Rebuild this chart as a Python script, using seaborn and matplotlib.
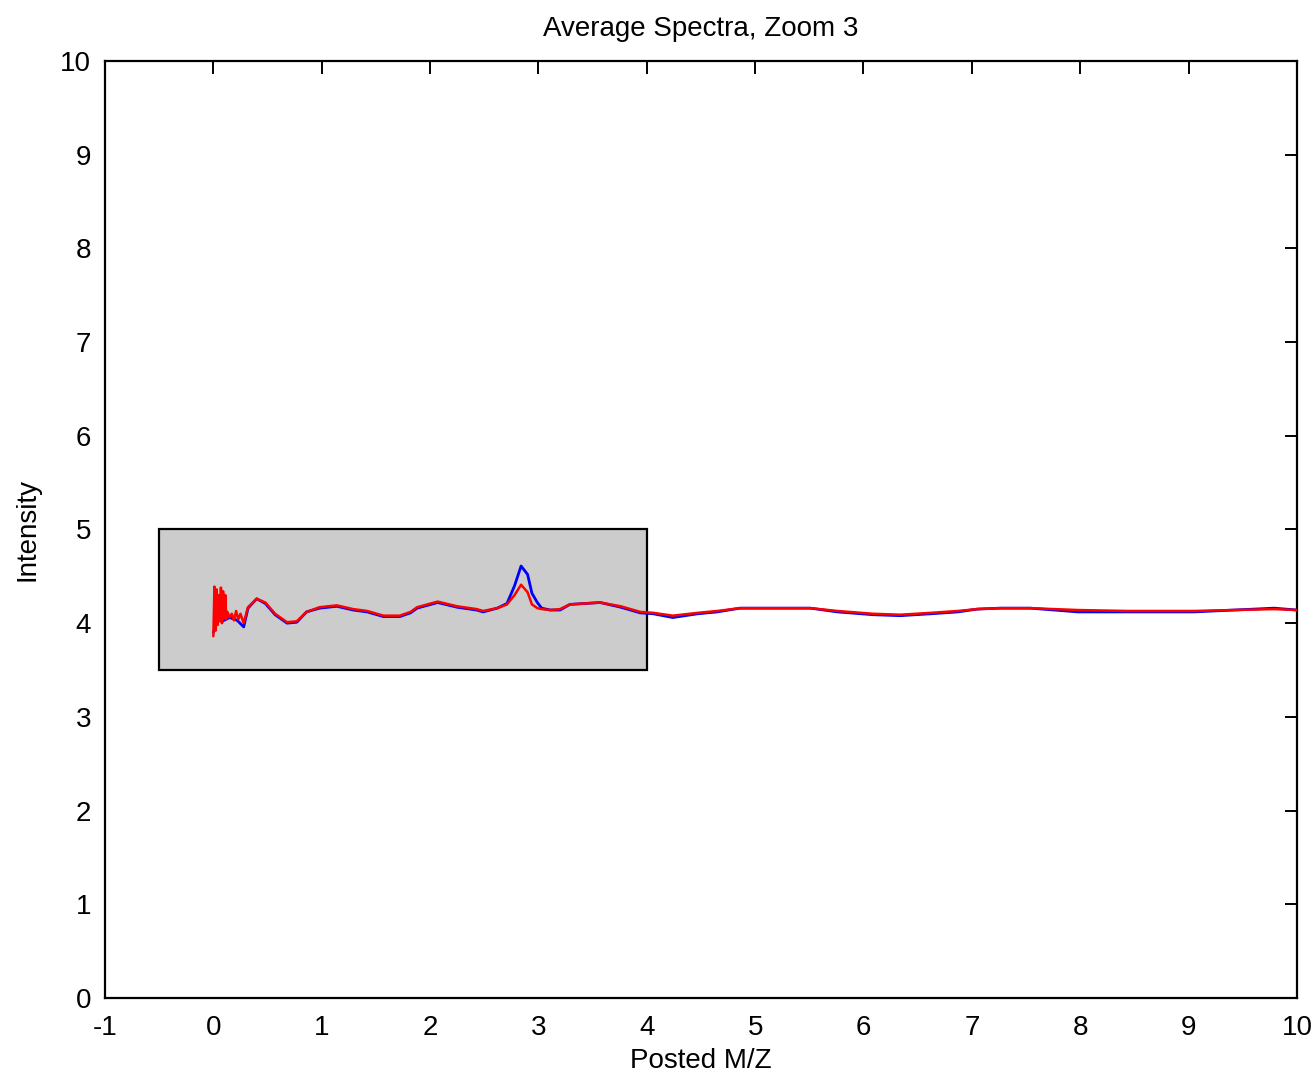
import matplotlib
matplotlib.use("Agg")
import matplotlib.pyplot as plt
from matplotlib.patches import Rectangle
import pandas as pd
import seaborn as sns

# Average spectrum, group 1 (blue)
blue_mz = [0.00, 0.04, 0.08, 0.15, 0.22, 0.28, 0.32, 0.40, 0.48, 0.57, 0.68, 0.77,
           0.86, 0.98, 1.14, 1.29, 1.42, 1.57, 1.72, 1.82, 1.88, 2.07, 2.25, 2.43,
           2.49, 2.62, 2.71, 2.78, 2.84, 2.90, 2.94, 2.99, 3.03, 3.11, 3.20, 3.29,
           3.57, 3.76, 3.94, 4.06, 4.24, 4.47, 4.65, 4.86, 5.51, 5.76, 6.09, 6.34,
           6.62, 6.87, 7.05, 7.26, 7.54, 7.98, 8.44, 9.05, 9.79, 10.00]
blue_int = [3.90, 4.04, 4.02, 4.06, 4.03, 3.96, 4.16, 4.26, 4.21, 4.09, 4.00, 4.01,
            4.12, 4.16, 4.18, 4.14, 4.12, 4.07, 4.07, 4.11, 4.16, 4.22, 4.17, 4.14,
            4.12, 4.16, 4.21, 4.40, 4.61, 4.52, 4.32, 4.22, 4.16, 4.14, 4.14, 4.20,
            4.22, 4.17, 4.11, 4.10, 4.06, 4.10, 4.12, 4.16, 4.16, 4.12, 4.09, 4.08,
            4.10, 4.12, 4.15, 4.16, 4.16, 4.12, 4.12, 4.12, 4.16, 4.14]

# Average spectrum, group 2 (red)
red_mz = [0.00, 0.01, 0.02, 0.03, 0.04, 0.05, 0.06, 0.07, 0.08, 0.09, 0.10, 0.11,
          0.12, 0.13, 0.15, 0.17, 0.19, 0.21, 0.23, 0.25, 0.28, 0.32, 0.40, 0.48,
          0.57, 0.68, 0.77, 0.86, 0.98, 1.14, 1.29, 1.42, 1.57, 1.72, 1.82, 1.88,
          2.07, 2.25, 2.43, 2.49, 2.62, 2.71, 2.78, 2.84, 2.90, 2.94, 2.99, 3.03,
          3.11, 3.20, 3.29, 3.57, 3.76, 3.94, 4.06, 4.24, 4.47, 4.65, 4.86, 5.51,
          5.76, 6.09, 6.34, 6.62, 6.87, 7.05, 7.26, 7.54, 7.98, 8.44, 9.05, 9.79, 10.00]
red_int = [3.86, 4.39, 3.92, 4.36, 3.98, 4.30, 4.02, 4.38, 4.00, 4.34, 4.05, 4.30,
           4.04, 4.12, 4.06, 4.10, 4.03, 4.13, 4.04, 4.10, 4.00, 4.17, 4.26, 4.22,
           4.10, 4.01, 4.02, 4.12, 4.17, 4.19, 4.15, 4.13, 4.08, 4.08, 4.12, 4.17,
           4.23, 4.18, 4.15, 4.13, 4.16, 4.20, 4.30, 4.41, 4.33, 4.20, 4.16, 4.15,
           4.14, 4.15, 4.20, 4.22, 4.18, 4.12, 4.11, 4.08, 4.11, 4.13, 4.16, 4.16,
           4.13, 4.10, 4.09, 4.11, 4.13, 4.15, 4.16, 4.16, 4.14, 4.13, 4.13, 4.15, 4.14]

# Zoom window drawn behind the spectra
zoom_x = [-0.5, 4.0]
zoom_y = [3.5, 5.0]

x_ticks = list(range(-1, 11))
y_ticks = list(range(0, 11))

sns.set_style("white")
plt.rcParams["font.family"] = ["Liberation Sans", "DejaVu Sans"]
plt.rcParams["font.size"] = 20
plt.rcParams["axes.unicode_minus"] = False
plt.rcParams["text.color"] = "black"
plt.rcParams["axes.labelcolor"] = "black"

fig = plt.figure(figsize=(13.14, 10.77), dpi=100)
ax = fig.add_axes([0.0799, 0.0734, 0.9071, 0.8700])

ax.add_patch(Rectangle((zoom_x[0], zoom_y[0]), zoom_x[1] - zoom_x[0], zoom_y[1] - zoom_y[0],
                       facecolor="#cccccc", edgecolor="black", linewidth=1.6, zorder=1))

blue_df = pd.DataFrame({"mz": blue_mz, "intensity": blue_int})
red_df = pd.DataFrame({"mz": red_mz, "intensity": red_int})
sns.lineplot(data=blue_df, x="mz", y="intensity", color="#0000ff", linewidth=2.0,
             estimator=None, sort=False, ax=ax, zorder=2)
sns.lineplot(data=red_df, x="mz", y="intensity", color="#ff0000", linewidth=1.8,
             estimator=None, sort=False, ax=ax, zorder=3)

ax.set_xlim(-1, 10)
ax.set_ylim(0, 10)
ax.set_xticks(x_ticks)
ax.set_yticks(y_ticks)
ax.tick_params(direction="in", length=9, width=1.4, top=True, right=True,
               labelsize=20, colors="black")
ax.tick_params(axis="x", pad=12)
ax.tick_params(axis="y", pad=10)
for s in ax.spines.values():
    s.set_visible(True)
    s.set_color("black")
    s.set_linewidth(1.6)

ax.set_title("Average Spectra, Zoom 3", fontsize=20, pad=18, color="black")
ax.set_xlabel("Posted M/Z", fontsize=20, labelpad=5)
ax.set_ylabel("Intensity", fontsize=20, labelpad=14)

fig.savefig("out.png", dpi=100)
